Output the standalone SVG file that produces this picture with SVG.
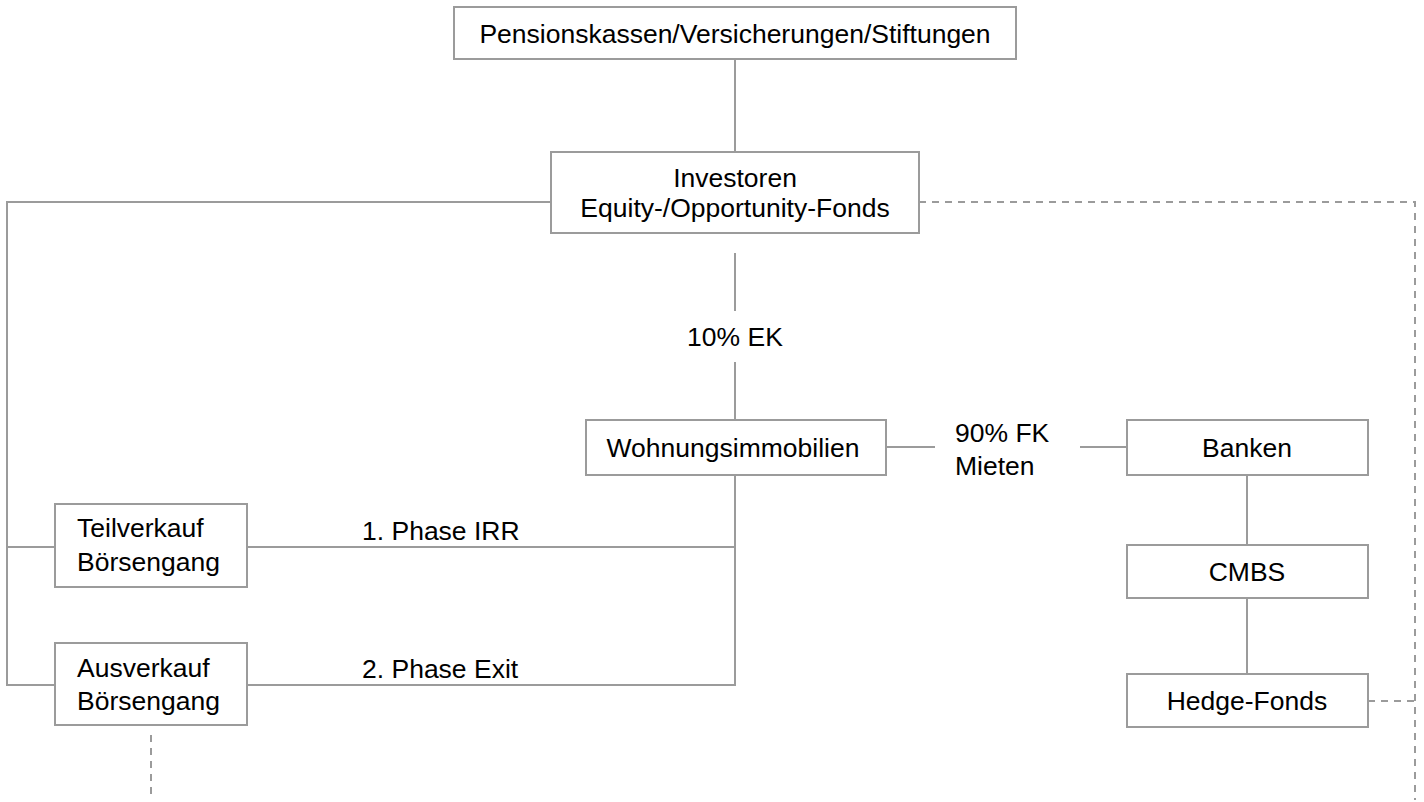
<svg xmlns="http://www.w3.org/2000/svg" width="1424" height="802" viewBox="0 0 1424 802">
<style>
.box{fill:#fff;stroke:#9b9b9b;stroke-width:2}
.ln{fill:none;stroke:#9b9b9b;stroke-width:2}
.dash{fill:none;stroke:#9b9b9b;stroke-width:2;stroke-dasharray:7 6}
text{font-family:"Liberation Sans",Arial,sans-serif;font-size:26.5px;fill:#000}
.c{text-anchor:middle}
</style>
<rect width="1424" height="802" fill="#fff"/>
<g id="connectors">
<path class="ln" d="M735 59V151"/>
<path class="ln" d="M551 202H7V685H55"/>
<path class="ln" d="M7 547H55"/>
<path class="dash" d="M919 202H1415V800"/>
<path class="ln" d="M735 253V311"/>
<path class="ln" d="M735 362V420"/>
<path class="ln" d="M886 447H935"/>
<path class="ln" d="M1080 447H1127"/>
<path class="ln" d="M735 475V685H247"/>
<path class="ln" d="M247 547H735"/>
<path class="ln" d="M1247 475V545"/>
<path class="ln" d="M1247 598V674"/>
<path class="dash" d="M1368 701H1415"/>
<path class="dash" d="M151 735V800"/>
<text x="735" y="346" class="c">10% EK</text>
<text x="955" y="442">90% FK</text>
<text x="955" y="475">Mieten</text>
<text x="362" y="540">1. Phase IRR</text>
<text x="362" y="678">2. Phase Exit</text>
</g>
<g id="pensionskassen">
<rect class="box" x="454" y="7" width="562" height="52"/>
<text x="735" y="43" class="c">Pensionskassen/Versicherungen/Stiftungen</text>
</g>
<g id="investoren">
<rect class="box" x="551" y="152" width="368" height="81"/>
<text x="735" y="187" class="c">Investoren</text>
<text x="735" y="217" class="c">Equity-/Opportunity-Fonds</text>
</g>
<g id="wohnungsimmobilien">
<rect class="box" x="586" y="420" width="300" height="55"/>
<text x="733" y="457" class="c">Wohnungsimmobilien</text>
</g>
<g id="banken">
<rect class="box" x="1127" y="420" width="241" height="55"/>
<text x="1247" y="457" class="c">Banken</text>
</g>
<g id="cmbs">
<rect class="box" x="1127" y="545" width="241" height="53"/>
<text x="1247" y="581" class="c">CMBS</text>
</g>
<g id="hedgefonds">
<rect class="box" x="1127" y="674" width="241" height="53"/>
<text x="1247" y="710" class="c">Hedge-Fonds</text>
</g>
<g id="teilverkauf">
<rect class="box" x="55" y="504" width="192" height="83"/>
<text x="77" y="537">Teilverkauf</text>
<text x="77" y="571">Börsengang</text>
</g>
<g id="ausverkauf">
<rect class="box" x="55" y="643" width="192" height="82"/>
<text x="77" y="677">Ausverkauf</text>
<text x="77" y="710">Börsengang</text>
</g>
</svg>
